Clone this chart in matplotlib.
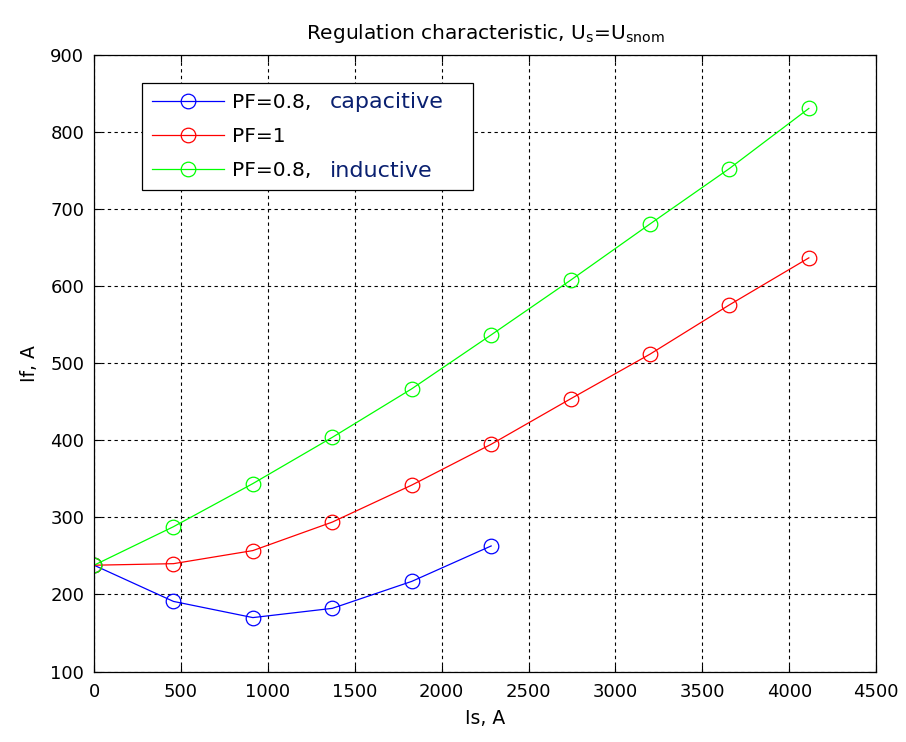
import numpy as np
import matplotlib
matplotlib.use('Agg')
import matplotlib.pyplot as plt

# 数据
Is = [0, 457, 914, 1371, 1828, 2285, 2742, 3199, 3656, 4113]
If_cap = [238, 191, 170, 182, 217, 263]
If_one = [238, 240, 257, 294, 342, 395, 454, 512, 576, 637]
If_ind = [238, 288, 344, 404, 467, 537, 608, 681, 753, 831]

labels = ['PF=0.8,', 'PF=1', 'PF=0.8,']
extra = ['capacitive', '', 'inductive']
colors = ['#0000ff', '#ff0000', '#00ff00']

xticks = np.arange(0, 4501, 500)
yticks = np.arange(100, 901, 100)

plt.rcParams['font.family'] = 'DejaVu Sans'
plt.rcParams['mathtext.fontset'] = 'custom'
plt.rcParams['mathtext.rm'] = 'DejaVu Sans'

fig = plt.figure(figsize=(9.06, 7.42), dpi=100)
ax = fig.add_axes([0.1038, 0.095, 0.967 - 0.1038, 0.9255 - 0.095])

series = [If_cap, If_one, If_ind]
for ys, c, lab in zip(series, colors, labels):
    ax.plot(Is[:len(ys)], ys, color=c, lw=0.9, marker='o', ms=10.5,
            mfc='none', mec=c, mew=0.9, label=lab)

ax.set_xlim(0, 4500)
ax.set_ylim(100, 900)
ax.set_xticks(xticks)
ax.set_yticks(yticks)
ax.tick_params(direction='in', top=True, right=True, labelsize=13, length=5)
ax.tick_params(axis='x', pad=8)
ax.tick_params(axis='y', pad=7)
ax.grid(True, color='black', linestyle=(0, (3, 3)), linewidth=0.8)
for s in ax.spines.values():
    s.set_linewidth(0.9)

ax.set_xlabel('Is, A', fontsize=13.5, labelpad=6)
ax.set_ylabel('If, A', fontsize=13.5, labelpad=8)
ax.set_title(r'Regulation characteristic, U$_{\mathrm{s}}$=U$_{\mathrm{snom}}$', fontsize=14.5, pad=12)

leg = fig.legend(loc='upper left', bbox_to_anchor=(0.1564, 0.7425, 0.3657, 0.146),
                 mode='expand', fancybox=False, edgecolor='black', framealpha=1,
                 prop={'family': 'DejaVu Sans', 'size': 14.5}, handlelength=3.6,
                 handletextpad=0.4, borderaxespad=0, labelspacing=0.75, borderpad=0.5)
leg.get_frame().set_linewidth(0.9)

# 图例中 capacitive / inductive 单独着色
fig.canvas.draw()
r = fig.canvas.get_renderer()
for t, word in zip(leg.get_texts(), extra):
    if not word:
        continue
    bb = t.get_window_extent(r)
    fig.text((bb.x1 + 18) / fig.bbox.width, (bb.y0 + bb.y1) / 2 / fig.bbox.height, word,
             color='#0a2070', family='DejaVu Sans', fontsize=16, va='center', ha='left',
             zorder=10)

fig.savefig('out.png', dpi=100)
